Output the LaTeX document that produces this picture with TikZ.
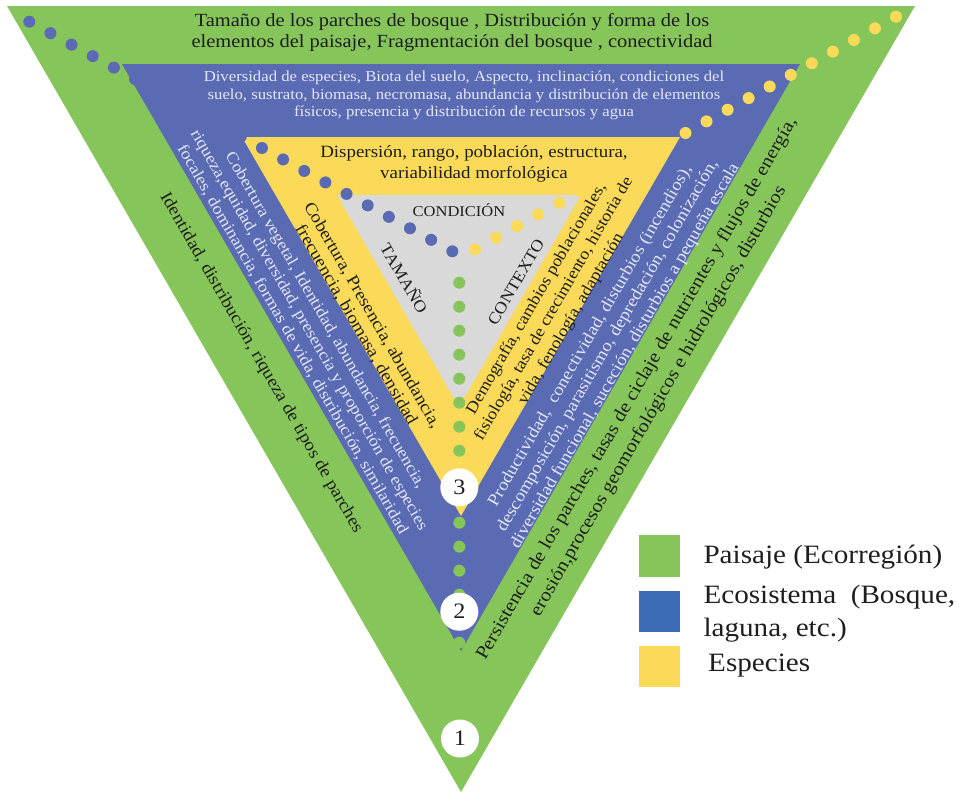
\documentclass[tikz,border=0pt]{standalone}
\usepackage{fontspec}
\setmainfont{Liberation Serif}[FakeStretch=1.1]
\definecolor{cgreen}{HTML}{85C55A}
\definecolor{cblue}{HTML}{5A6BB4}
\definecolor{clegblue}{HTML}{3D6CB6}
\definecolor{cyellow}{HTML}{FADA58}
\definecolor{cgray}{HTML}{D9D9D9}
\definecolor{ctxtdark}{HTML}{1E1E1E}
\definecolor{ctxtlight}{HTML}{E2E6F5}
\newcommand{\fs}[2]{\fontsize{#1}{#2}\selectfont}
\begin{document}
\begin{tikzpicture}[x=1pt,y=-1pt,
  numc/.style={circle,fill=white,minimum size=38pt,inner sep=0pt,font=\fs{22}{26},text=ctxtdark},
  darktxt/.style={text=ctxtdark,align=center,inner sep=0pt},
  lighttxt/.style={text=ctxtlight,align=center,inner sep=0pt},
  legtxt/.style={text=ctxtdark,anchor=base west,inner sep=0pt,font=\fs{26.5}{33}}]
\useasboundingbox (0,0) rectangle (966,793);
% layers
\fill[cgreen] (7,6) -- (915,6) -- (461,792) -- cycle;
\fill[cblue] (122,64) -- (800,64) -- (461,651) -- cycle;
\fill[cyellow] (242,137) -- (680,137) -- (461,516) -- cycle;
\fill[cgray] (337,195) -- (581,195) -- (459,407) -- cycle;
% dotted axes
\foreach \i in {0,...,20} \fill[cblue] ({29.3+\i*21.15},{21.7+\i*11.48}) circle (6);
\foreach \i in {0,...,20} \fill[cyellow] ({475+\i*21.05},{249.3-\i*11.63}) circle (6);
\foreach \i in {0,...,15} \fill[cgreen] (459.3,{282.7+\i*24}) circle (6);
% numbers
\node[numc] (n3) at (459.3,487.3) {3};
\node[numc] (n2) at (459.3,611.7) {2};
\node[numc] (n1) at (460,738.5) {1};
% top texts
\node[darktxt,font=\fs{18.6}{21.7}] (tgreen) at (452,32.5)
  {Tamaño de los parches de bosque , Distribución y forma de los\\elementos del paisaje, Fragmentación del bosque , conectividad};
\node[lighttxt,font=\fs{15.2}{17.5}] (tblue) at (464,95.5)
  {Diversidad de especies, Biota del suelo, Aspecto, inclinación, condiciones del\\suelo, sustrato, biomasa, necromasa, abundancia y distribución de elementos\\físicos, presencia y distribución de recursos y agua};
\node[darktxt,font=\fs{17.2}{20.7}] (tyellow) at (474,163.7)
  {Dispersión, rango, población, estructura,\\variabilidad morfológica};
\node[text=ctxtdark,inner sep=0pt,font=\fs{15}{17}] (cond) at (459,210) {CONDICIÓN};
\node[text=ctxtdark,inner sep=0pt,font=\fs{16.4}{18},rotate=-60] (tam) at (405,278) {TAMAÑO};
\node[text=ctxtdark,inner sep=0pt,font=\fs{16.4}{18},rotate=60] (ctx) at (516,282) {CONTEXTO};
% left texts
\node[darktxt,font=\fs{17.4}{20},rotate=-60] (lgreen) at (261,363)
  {Identidad, distribución, riqueza de tipos de parches};
\node[lighttxt,font=\fs{16.4}{19},rotate=-60] (lblue) at (309,330)
  {Cobertura vegetal, Identidad, abundancia, frecuencia,\\riqueza,equidad, diversidad, presencia y proporción de especies\\focales, dominancia, formas de vida, distribución, similaridad};
\node[darktxt,font=\fs{17.2}{18.5},rotate=-60] (lyellow) at (364,320)
  {Cobertura, Presencia, abundancia,\\frecuencia, biomasa, densidad};
% right texts
\node[darktxt,font=\fs{16.4}{20},rotate=60] (ryellow) at (554,309)
  {Demografía, cambios poblacionales,\\fisiología, tasa de crecimiento, historia de\\vida, fenología, adaptación};
\node[lighttxt,font=\fs{17}{20},rotate=60] (rblue) at (608,346)
  {Productividad,\ \ conectividad, disturbios (incendios),\\descomposición, parasitismo, depredación, colonización,\\diversidad funcional, suceción, disturbios a pequeña escala};
\node[darktxt,font=\fs{18.6}{25},rotate=60] (rgreen) at (648,395)
  {Persistencia de los parches, tasas de ciclaje de nutrientes y flujos de energía,\\erosión,procesos geomorfológicos e hidrológicos, disturbios};
% legend
\fill[cgreen] (639.3,535) rectangle (680,576.7);
\fill[clegblue] (639.3,590.7) rectangle (680,632.3);
\fill[cyellow] (639.3,646) rectangle (680,686.7);
\node[legtxt] (l1) at (703.3,563.3) {Paisaje (Ecorregión)};
\node[legtxt] (l2) at (703.3,603.3) {Ecosistema\ \ (Bosque,};
\node[legtxt] (l3) at (703.3,636.7) {laguna, etc.)};
\node[legtxt] (l4) at (708,671.7) {Especies};
\end{tikzpicture}
\end{document}
